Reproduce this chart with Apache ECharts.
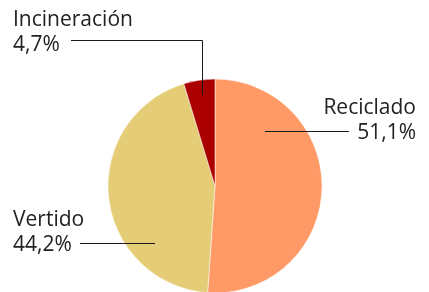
<!DOCTYPE html>
<html>
<head>
<meta charset="utf-8">
<script src="https://cdn.jsdelivr.net/npm/echarts@6/dist/echarts.min.js"></script>
<style>
  html, body { margin: 0; padding: 0; background: #fff; }
  #chart { width: 429px; height: 292px; }
</style>
</head>
<body>
<div id="chart"></div>
<script>
// datos del gráfico
const categories = ['Reciclado', 'Vertido', 'Incineración']
const values = [51.1, 44.2, 4.7]
const colors = ['#ff9966', '#e5cc77', '#aa0000']

// posición de cada etiqueta y de su línea guía
const labelSpots = [
  { x: 416, y: 96, align: 'right', line: [[265, 131.5], [310, 131.5], [349, 131.5]] },
  { x: 13, y: 208, align: 'left', line: [[155, 243.5], [120, 243.5], [80, 243.5]] },
  { x: 13, y: 8, align: 'left', line: [[202.5, 95], [202.5, 40.5], [71, 40.5]] }
]

const chart = echarts.init(document.getElementById('chart'), null, { renderer: 'canvas' })

const pieBase = {
  type: 'pie',
  center: [215, 186],
  radius: 107,
  startAngle: 90,
  clockwise: true,
  silent: true
}

chart.setOption({
  animation: false,
  backgroundColor: '#ffffff',
  series: [
    // sectores
    Object.assign({}, pieBase, {
      z: 2,
      itemStyle: { borderColor: '#ffffff', borderWidth: 0.5 },
      label: { show: false },
      labelLine: { show: false },
      data: categories.map((name, i) => ({
        name: name,
        value: values[i],
        itemStyle: { color: colors[i] }
      }))
    }),
    // etiquetas y líneas por encima de los sectores
    Object.assign({}, pieBase, {
      z: 3,
      itemStyle: { color: 'rgba(0,0,0,0)', borderWidth: 0 },
      label: {
        show: true,
        position: 'outside',
        overflow: 'none',
        color: '#222222',
        fontFamily: 'Open Sans',
        fontSize: 21,
        lineHeight: 25,
        formatter: function(p) {
          return p.name + '\n' + String(p.value).replace('.', ',') + '%'
        }
      },
      labelLine: {
        show: true,
        lineStyle: { color: '#1a1a1a', width: 1 }
      },
      labelLayout: function(params) {
        const s = labelSpots[params.dataIndex]
        return {
          x: s.x,
          y: s.y,
          align: s.align,
          verticalAlign: 'top',
          labelLinePoints: s.line
        }
      },
      data: categories.map((name, i) => ({
        name: name,
        value: values[i],
        label: { align: labelSpots[i].align }
      }))
    })
  ]
})
</script>
</body>
</html>
